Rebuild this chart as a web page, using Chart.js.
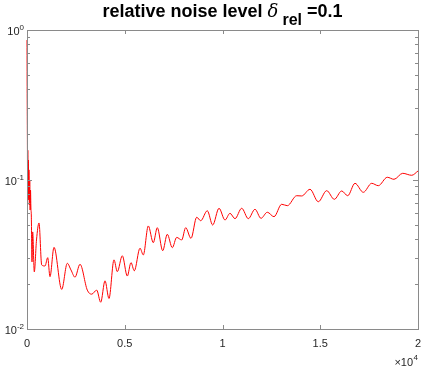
<!DOCTYPE html>
<html>
<head>
<meta charset="utf-8">
<script src="https://cdn.jsdelivr.net/npm/chart.js@4"></script>
<style>
  body { margin: 0; background: #fff; }
  canvas { display: block; }
</style>
</head>
<body>
<canvas id="myChart" width="423" height="368"></canvas>
<script>
// iteration index (x) and relative error (y)
const xs = [0,10,20,30,40,55,70,85,100,120,140,160,180,200,220,256,291,373,486,614,
  752,921,1059,1176,1381,1775,2061,2251,2455,2711,3084,3309,3565,3770,3990,4194,4450,4619,4875,5130,
  5320,5488,5780,5949,6204,6460,6665,6941,7176,7432,7657,7913,8117,8389,8680,8885,9222,9498,9821,10128,
  10383,10639,10982,11320,11662,11969,12292,12634,13028,13315,13795,14051,14475,14900,15330,15719,16097,16404,16777,17202,
  17632,17969,18429,18772,19217,19678,20000];
const ys = [0.857,0.34,0.184,0.092,0.157,0.079,0.135,0.073,0.116,0.0675,0.099,0.0625,0.085,0.0645,0.0579,0.0281,0.0446,0.0241,0.0394,0.0512,
  0.0268,0.0264,0.0300,0.0224,0.0352,0.0184,0.0275,0.0248,0.0222,0.0271,0.0182,0.0171,0.0182,0.0151,0.0210,0.0160,0.0290,0.0242,0.0309,0.0226,
  0.0278,0.0245,0.0347,0.0313,0.0489,0.0378,0.0476,0.0334,0.0430,0.0350,0.0410,0.0394,0.0476,0.0404,0.0559,0.0530,0.0618,0.0496,0.0642,0.0536,
  0.0594,0.0547,0.0642,0.0547,0.0632,0.0550,0.0604,0.0564,0.0683,0.0668,0.0779,0.0776,0.0860,0.0710,0.0842,0.0737,0.0838,0.0779,0.0943,0.0821,
  0.0943,0.0909,0.1035,0.1003,0.1100,0.1067,0.114];

const xTicks = [0, 5000, 10000, 15000, 20000];
const xTickLabels = ['0', '0.5', '1', '1.5', '2'];
const yTicks = [0.01, 0.1, 1];
const yTickExps = ['-2', '-1', '0'];

const FONT = '"Liberation Sans", Arial, sans-serif';
const AXIS_COLOR = '#262626';

// matlab style box, inward ticks, labels and title
const matlabAxes = {
  id: 'matlabAxes',
  afterDatasetsDraw(chart) {
    const c = chart.ctx;
    const a = chart.chartArea;
    const sx = chart.scales.x;
    const sy = chart.scales.y;
    c.save();
    c.strokeStyle = '#8a8a8a';
    c.lineWidth = 1;
    c.strokeRect(Math.round(a.left) + 0.5, Math.round(a.top) + 0.5,
      Math.round(a.right - a.left), Math.round(a.bottom - a.top));

    // x ticks
    c.beginPath();
    xTicks.forEach(v => {
      const px = Math.round(sx.getPixelForValue(v)) + 0.5;
      c.moveTo(px, a.bottom); c.lineTo(px, a.bottom - 4);
      c.moveTo(px, a.top); c.lineTo(px, a.top + 4);
    });
    // y ticks, major and minor
    for (let d = 0; d < yTicks.length; d++) {
      const base = yTicks[d];
      for (let m = 1; m <= 9; m++) {
        const v = base * m;
        if (v > 1) break;
        const py = Math.round(sy.getPixelForValue(v)) + 0.5;
        const len = m === 1 ? 5 : 3;
        c.moveTo(a.left, py); c.lineTo(a.left + len, py);
        c.moveTo(a.right, py); c.lineTo(a.right - len, py);
      }
    }
    c.stroke();

    c.fillStyle = AXIS_COLOR;
    // x tick labels
    c.font = '11px ' + FONT;
    c.textAlign = 'center';
    c.textBaseline = 'alphabetic';
    xTicks.forEach((v, i) => {
      c.fillText(xTickLabels[i], sx.getPixelForValue(v), a.bottom + 18);
    });
    // exponent label
    c.textAlign = 'right';
    c.font = '8px ' + FONT;
    const ew = c.measureText('4').width;
    c.fillText('4', a.right, a.bottom + 31);
    c.font = '11px ' + FONT;
    c.fillText('\u00d710', a.right - ew - 0.5, a.bottom + 37);

    // y tick labels: 10^k
    yTicks.forEach((v, i) => {
      const py = sy.getPixelForValue(v);
      c.font = '8px ' + FONT;
      const w = c.measureText(yTickExps[i]).width;
      c.textAlign = 'left';
      const right = a.left - 3;
      c.fillText(yTickExps[i], right - w, py + 0);
      c.font = '11px ' + FONT;
      c.textAlign = 'right';
      c.fillText('10', right - w, py + 5);
    });

    // title with subscript
    const parts = [
      { t: 'relative noise level ', f: 'bold 18px ' + FONT, dy: 0, gap: 0 },
      { t: '\u03b4', f: 'italic 18px "DejaVu Serif", serif', dy: 0, gap: 0 },
      { t: 'rel', f: 'bold 16px ' + FONT, dy: 8, gap: 4 },
      { t: ' =0.1', f: 'bold 18px ' + FONT, dy: 0, gap: 0 }
    ];
    let total = 0;
    parts.forEach(p => { c.font = p.f; p.w = c.measureText(p.t).width; total += p.w + p.gap; });
    let x = (a.left + a.right) / 2 - total / 2;
    c.textAlign = 'left';
    c.fillStyle = '#000';
    parts.forEach(p => {
      c.font = p.f;
      x += p.gap;
      c.fillText(p.t, x, 17 + p.dy);
      x += p.w;
    });
    c.restore();
  }
};

const ctx = document.getElementById('myChart');

new Chart(ctx, {
  type: 'line',
  data: {
    datasets: [{
      data: xs.map((x, i) => ({ x: x, y: ys[i] })),
      borderColor: 'rgb(255,0,0)',
      borderWidth: 1,
      pointRadius: 0,
      cubicInterpolationMode: 'monotone',
      clip: 3
    }]
  },
  options: {
    responsive: false,
    animation: false,
    devicePixelRatio: 1,
    layout: { padding: { left: 27, right: 5, top: 30, bottom: 39 } },
    plugins: { legend: { display: false }, tooltip: { enabled: false }, title: { display: false } },
    scales: {
      x: { type: 'linear', min: 0, max: 20000, display: false },
      y: { type: 'logarithmic', min: 0.01, max: 1, display: false }
    }
  },
  plugins: [matlabAxes]
});
</script>
</body>
</html>
